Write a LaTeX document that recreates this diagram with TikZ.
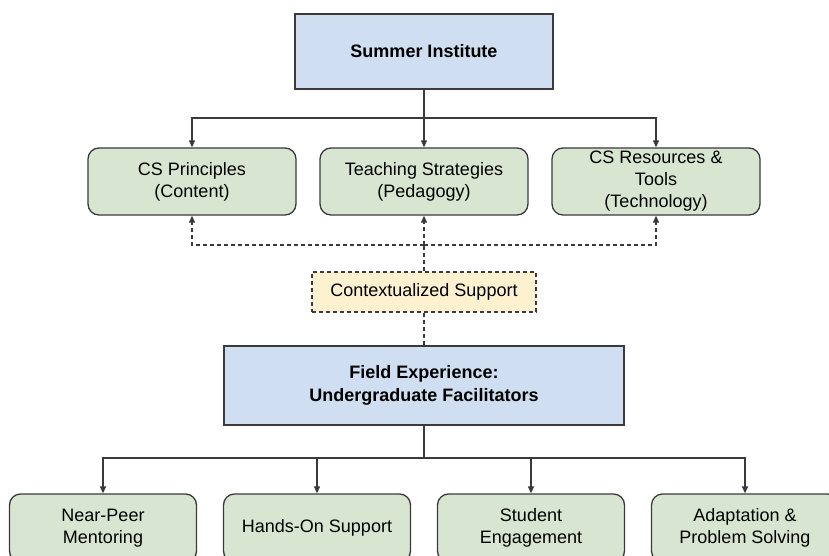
\documentclass[tikz,border=0pt]{standalone}
\usepackage{fontspec}
\setmainfont{Liberation Sans}
\usetikzlibrary{arrows.meta}

\definecolor{hubblue}{HTML}{CFDEF0}
\definecolor{leafgreen}{HTML}{D8E6D1}
\definecolor{ctxyellow}{HTML}{FDF1D0}
\definecolor{edgegray}{HTML}{3A3A3A}

\begin{document}
\begin{tikzpicture}[x=1pt,y=-1pt,
		line width=1.3pt,
		txt/.style={font=\fontsize{18}{22}\selectfont, align=center, text=black},
		hub/.style={txt, draw=edgegray, fill=hubblue, inner sep=0pt, font=\fontsize{18}{23}\selectfont\bfseries},
		leaf/.style={txt, draw=edgegray, fill=leafgreen, rounded corners=11pt, inner sep=0pt},
		ctxbox/.style={txt, draw=edgegray, fill=ctxyellow, dashed, dash pattern=on 4pt off 3pt, inner sep=0pt},
		link/.style={draw=edgegray, line width=1.2pt},
		arr/.style={link, -{Triangle[length=7pt,width=6pt]}},
		dlink/.style={link, dash pattern=on 4pt off 3pt}]
	
	% Page
	\useasboundingbox (0,0) rectangle (829,556);
	
	% Parameters
	\def\midx{424}
	\def\topw{208}
	\def\botw{187}
	
	% Top level
	\node[hub, minimum width=258pt, minimum height=75pt] (summer) at (\midx,51.5) {Summer Institute};
	
	% Summer Institute branches
	\node[leaf, minimum width=\topw pt, minimum height=67pt] (content) at (192,181.5) {CS Principles\\(Content)};
	\node[leaf, minimum width=\topw pt, minimum height=67pt] (pedagogy) at (\midx,181.5) {Teaching Strategies\\(Pedagogy)};
	\node[leaf, minimum width=\topw pt, minimum height=67pt] (techno) at (656,181.5) {CS Resources \&\\Tools\\(Technology)};
	
	% Contextualized support
	\node[ctxbox, minimum width=224pt, minimum height=40pt] (context) at (\midx,292) {Contextualized Support};
	
	% Field experience
	\node[hub, minimum width=400pt, minimum height=79pt] (field) at (\midx,385.5) {Field Experience:\\Undergraduate Facilitators};
	
	% Field experience branches
	\node[leaf, minimum width=\botw pt, minimum height=68pt] (mentor) at (103,528) {Near-Peer\\Mentoring};
	\node[leaf, minimum width=\botw pt, minimum height=68pt] (hands) at (317,528) {Hands-On Support};
	\node[leaf, minimum width=\botw pt, minimum height=68pt] (engage) at (531,528) {Student\\Engagement};
	\node[leaf, minimum width=\botw pt, minimum height=68pt] (adapt) at (745,528) {Adaptation \&\\Problem Solving};
	
	% Split points
	\coordinate (topsplit) at (\midx,118);
	\coordinate (ctxsplit) at (\midx,245);
	\coordinate (botsplit) at (\midx,458);
	
	% Solid tree from Summer Institute
	\draw[link] (summer.south) -- (topsplit);
	\draw[arr] (topsplit) -| (content.north);
	\draw[arr] (topsplit) -- (pedagogy.north);
	\draw[arr] (topsplit) -| (techno.north);
	
	% Dashed support links
	\draw[dlink] (context.north) -- (ctxsplit);
	\draw[dlink, -{Triangle[length=7pt,width=6pt]}] (ctxsplit) -| (content.south);
	\draw[dlink, -{Triangle[length=7pt,width=6pt]}] (ctxsplit) -- (pedagogy.south);
	\draw[dlink, -{Triangle[length=7pt,width=6pt]}] (ctxsplit) -| (techno.south);
	\draw[dlink] (context.south) -- (field.north);
	
	% Solid tree from Field Experience
	\draw[link] (field.south) -- (botsplit);
	\draw[arr] (botsplit) -| (mentor.north);
	\draw[arr] (botsplit) -| (hands.north);
	\draw[arr] (botsplit) -| (engage.north);
	\draw[arr] (botsplit) -| (adapt.north);
	
\end{tikzpicture}
\end{document}
